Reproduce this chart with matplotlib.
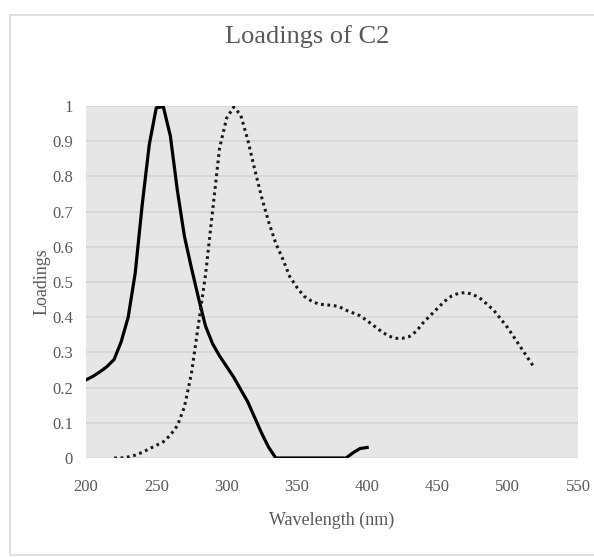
"""Loadings of C2: two component loadings against wavelength."""

import matplotlib

matplotlib.use("Agg")
import matplotlib.pyplot as plt  # noqa: E402
from matplotlib.patches import Rectangle  # noqa: E402

# solid curve
SOLID_WL = [200, 205, 210, 215, 220, 225, 230, 235, 240, 245, 250, 255, 260,
            265, 270, 275, 280, 285, 290, 295, 300, 305, 310, 315, 320, 325,
            330, 335, 340, 345, 350, 355, 360, 365, 370, 375, 380, 385, 390,
            395, 400]
SOLID_LOAD = [0.222, 0.232, 0.245, 0.260, 0.280, 0.330, 0.400, 0.525, 0.720,
              0.890, 0.995, 0.998, 0.915, 0.760, 0.630, 0.540, 0.455, 0.375,
              0.325, 0.290, 0.260, 0.230, 0.195, 0.160, 0.115, 0.070, 0.030,
              0.000, 0.000, 0.000, 0.000, 0.000, 0.000, 0.000, 0.000, 0.000,
              0.000, 0.000, 0.015, 0.027, 0.030]

# dotted curve
DOTTED_WL = [220, 225, 230, 235, 240, 245, 250, 255, 260, 265, 270, 275, 280,
             285, 290, 295, 300, 305, 310, 315, 320, 325, 330, 335, 340, 345,
             350, 355, 360, 365, 370, 375, 380, 385, 390, 395, 400, 405, 410,
             415, 420, 425, 430, 435, 440, 445, 450, 455, 460, 465, 470, 475,
             480, 485, 490, 495, 500, 505, 510, 515, 518]
DOTTED_LOAD = [0.000, 0.000, 0.003, 0.008, 0.016, 0.026, 0.036, 0.046, 0.065,
               0.092, 0.145, 0.240, 0.380, 0.520, 0.700, 0.880, 0.965, 0.997,
               0.975, 0.905, 0.820, 0.740, 0.670, 0.610, 0.565, 0.515, 0.485,
               0.460, 0.447, 0.438, 0.435, 0.434, 0.430, 0.420, 0.412, 0.404,
               0.390, 0.375, 0.360, 0.347, 0.340, 0.340, 0.345, 0.360, 0.385,
               0.405, 0.425, 0.445, 0.460, 0.468, 0.470, 0.465, 0.455, 0.438,
               0.420, 0.395, 0.370, 0.340, 0.310, 0.280, 0.262]

X_TICKS = [200, 250, 300, 350, 400, 450, 500, 550]
Y_TICKS = [0, 0.1, 0.2, 0.3, 0.4, 0.5, 0.6, 0.7, 0.8, 0.9, 1]
Y_LABELS = ["0", "0.1", "0.2", "0.3", "0.4", "0.5", "0.6", "0.7", "0.8", "0.9", "1"]

TEXT = "#595959"
plt.rcParams["font.family"] = ["Liberation Serif", "DejaVu Serif"]

fig = plt.figure(figsize=(5.94, 5.57), dpi=100)
fig.patches.append(
    Rectangle((9.5 / 594, 2 / 557), 1.0, 1 - 16.5 / 557, transform=fig.transFigure,
              fill=False, edgecolor="#d9d9d9", lw=1.2)
)
axis = fig.add_axes([86 / 594, 1 - 458 / 557, 492 / 594, 352 / 557])
axis.set_facecolor("#e6e6e6")
axis.set_axisbelow(True)
axis.grid(axis="y", color="#d4d4d4", lw=1.2)

axis.plot(SOLID_WL, SOLID_LOAD, color="black", lw=2.3, solid_joinstyle="round")
axis.plot(DOTTED_WL, DOTTED_LOAD, color="#1a1a1a", lw=2.2, ls=(0, (0.9, 1.2)))

axis.set_xlim(200, 550)
axis.set_ylim(0, 1)
axis.set_xticks(X_TICKS)
axis.set_yticks(Y_TICKS)
axis.set_yticklabels(Y_LABELS)
axis.tick_params(length=0, labelsize=12, labelcolor=TEXT)
axis.tick_params(axis="x", pad=15)
axis.tick_params(axis="y", pad=9.5)
for spine in axis.spines.values():
    spine.set_visible(False)

axis.set_xlabel("Wavelength (nm)", fontsize=13, color=TEXT, labelpad=12)
axis.set_ylabel("Loadings", fontsize=13, color=TEXT, labelpad=1)
fig.text(307 / 594, 1 - 37 / 557, "Loadings of C2", fontsize=19, color=TEXT,
         ha="center", va="center")

fig.savefig("out.png", dpi=100)
